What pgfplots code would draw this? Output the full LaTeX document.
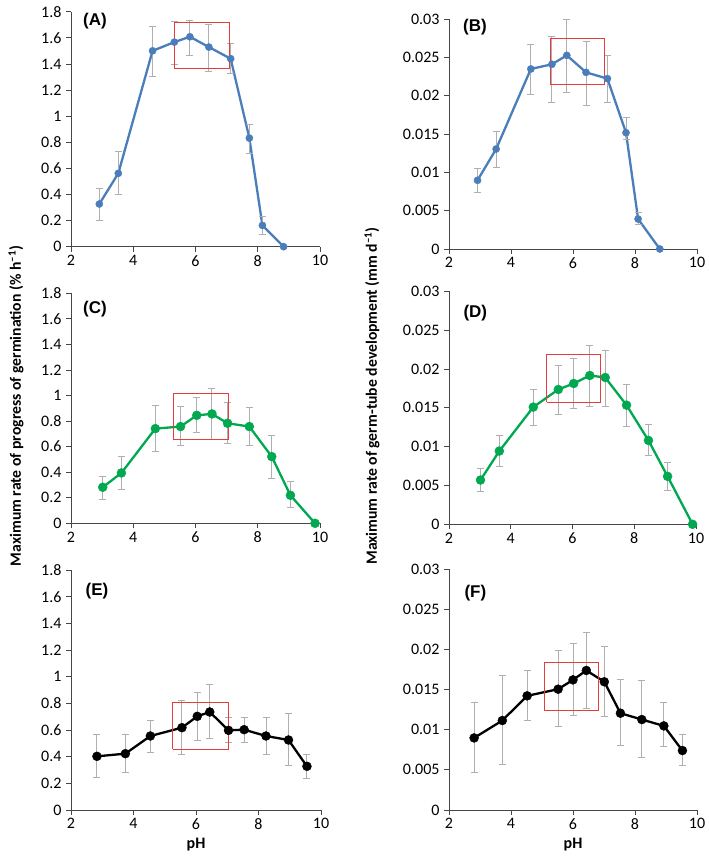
\documentclass[border=0pt]{standalone}
\usepackage{pgfplots}
\usepackage{pgfplotstable}
\pgfplotsset{compat=1.18}
\usepackage{fontspec}
\setmainfont{Carlito}
\newfontfamily\arialfont{Liberation Sans}
\definecolor{cblue}{RGB}{74,126,187}
\definecolor{cgreen}{RGB}{0,168,80}
\definecolor{cred}{RGB}{232,60,60}
\definecolor{cgray}{RGB}{175,175,175}
\definecolor{caxis}{RGB}{70,70,70}

\pgfplotstableread{
x y hi lo
2.91 0.327 0.442 0.204
3.52 0.562 0.728 0.396
4.62 1.50 1.69 1.30
5.32 1.567 1.728 1.394
5.82 1.608 1.736 1.465
6.43 1.529 1.703 1.343
7.13 1.44 1.555 1.325
7.73 0.832 0.934 0.717
8.15 0.163 0.23 0.097
8.83 0 0 0
}\tA
\pgfplotstableread{
x y hi lo
2.92 0.00896 0.01048 0.00735
3.52 0.01304 0.01539 0.01065
4.64 0.02348 0.0267 0.0201
5.32 0.02409 0.02774 0.01909
5.80 0.02526 0.02987 0.02039
6.42 0.02304 0.02704 0.01874
7.11 0.02222 0.02526 0.01909
7.71 0.01517 0.01713 0.0143
8.10 0.00391 0.00478 0.00313
8.80 0 0 0
}\tB
\pgfplotstableread{
x y hi lo
3.02 0.282 0.365 0.188
3.62 0.394 0.522 0.261
4.71 0.741 0.918 0.561
5.52 0.757 0.911 0.605
6.04 0.845 0.986 0.707
6.53 0.856 1.057 0.652
7.03 0.783 0.944 0.626
7.73 0.757 0.905 0.610
8.45 0.522 0.691 0.352
9.05 0.219 0.326 0.120
9.84 0 0 0
}\tC
\pgfplotstableread{
x y hi lo
3.02 0.0057 0.00724 0.00416
3.63 0.00943 0.0114 0.0075
4.73 0.01509 0.0174 0.01277
5.54 0.01736 0.02044 0.01414
6.04 0.01813 0.0213 0.01487
6.56 0.01916 0.0230 0.01521
7.06 0.0189 0.0224 0.01521
7.75 0.01534 0.0180 0.01256
8.46 0.0108 0.01286 0.00883
9.08 0.00617 0.00793 0.00441
9.89 0 0 0
}\tD
\pgfplotstableread{
x y hi lo
2.83 0.4025 0.5625 0.245
3.74 0.4225 0.5625 0.28
4.54 0.555 0.6725 0.4325
5.55 0.6175 0.8225 0.4175
6.04 0.7025 0.8825 0.5175
6.44 0.735 0.9375 0.5325
7.04 0.5975 0.695 0.5075
7.54 0.6025 0.695 0.5075
8.24 0.555 0.695 0.4175
8.96 0.525 0.725 0.3325
9.55 0.3275 0.4125 0.2375
}\tE
\pgfplotstableread{
x y hi lo
2.81 0.00897 0.01338 0.00465
3.72 0.01114 0.0167 0.00561
4.52 0.01421 0.01737 0.01118
5.52 0.01504 0.01986 0.01039
6.00 0.0162 0.02073 0.0118
6.43 0.01737 0.02215 0.01259
7.01 0.01596 0.0204 0.01168
7.53 0.01205 0.0162 0.00806
8.22 0.01126 0.01608 0.00652
8.93 0.01047 0.01342 0.00785
9.53 0.0074 0.00939 0.00553
}\tF

\pgfplotsset{
  panel/.style={
    scale only axis, anchor=south west, clip=false,
    axis lines=left, axis line style={-, caxis, line width=0.8pt},
    xmin=2, xmax=10, xtick={2,4,6,8,10}, ymin=0,
    tick align=outside, major tick length=5pt,
    tick style={caxis, line width=0.8pt},
    ticklabel style={font=\fontsize{16}{18}\selectfont},
    yticklabel style={xshift=-1pt},
    /pgf/number format/assume math mode=true,
    /pgf/number format/fixed,
    scaled y ticks=false,
    xlabel style={font=\fontsize{16}{18}\selectfont\bfseries, yshift=-2pt},
  },
  leftp/.style={panel, ymax=1.8, ytick={0,0.2,0.4,0.6,0.8,1,1.2,1.4,1.6,1.8},
    /pgf/number format/precision=1},
  rightp/.style={panel, ymax=0.03, ytick={0,0.005,0.01,0.015,0.02,0.025,0.03},
    /pgf/number format/precision=3},
  ser/.style 2 args={color=#1, line width=2.3pt, mark=*, mark size=#2,
    mark options={solid, fill=#1, draw=#1, line width=0.4pt},
    error bars/.cd, y dir=both, y explicit,
    error bar style={cgray, line width=1pt},
    error mark options={rotate=90, mark size=3.5pt, cgray, line width=1pt}},
  box/.style={cred, line width=1pt, no marks},
}
\newcommand{\plab}[2]{\node[anchor=north west, inner sep=0pt, font=\arialfont\fontsize{17}{19}\selectfont\bfseries] at (rel axis cs:#1) {#2};}
\newcommand{\ser}[3]{\addplot+[ser={#1}{#3}] table[x=x, y=y, y error plus expr=\thisrow{hi}-\thisrow{y}, y error minus expr=\thisrow{y}-\thisrow{lo}] {#2};}

\begin{document}
\begin{tikzpicture}
\useasboundingbox (0pt,0pt) rectangle (709pt,862pt);

% (A)
\begin{axis}[leftp, at={(71pt,615.3pt)}, width=249pt, height=235pt]
\ser{cblue}{\tA}{3.6pt}
\addplot[box] coordinates {(5.32,1.363)(7.09,1.363)(7.09,1.72)(5.32,1.72)(5.32,1.363)};
\plab{0.048,0.995}{(A)}
\end{axis}

% (B)
\begin{axis}[rightp, at={(449pt,613pt)}, width=248pt, height=230pt]
\ser{cblue}{\tB}{3.6pt}
\addplot[box] coordinates {(5.26,0.02143)(7.03,0.02143)(7.03,0.02752)(5.26,0.02752)(5.26,0.02143)};
\plab{0.056,1.0}{(B)}
\end{axis}

% (C)
\begin{axis}[leftp, at={(71pt,338.7pt)}, width=249pt, height=230pt]
\ser{cgreen}{\tC}{4.5pt}
\addplot[box] coordinates {(5.30,0.652)(7.06,0.652)(7.06,1.015)(5.30,1.015)(5.30,0.652)};
\plab{0.048,0.965}{(C)}
\end{axis}

% (D)
\begin{axis}[rightp, at={(449pt,337.7pt)}, width=247pt, height=233pt]
\ser{cgreen}{\tD}{4.5pt}
\addplot[box] coordinates {(5.16,0.01573)(6.92,0.01573)(6.92,0.0219)(5.16,0.0219)(5.16,0.01573)};
\plab{0.058,0.94}{(D)}
\end{axis}

% (E)
\begin{axis}[leftp, at={(71pt,52pt)}, width=250pt, height=240pt, xlabel={pH}]
\ser{black}{\tE}{4.5pt}
\addplot[box] coordinates {(5.25,0.455)(7.03,0.455)(7.03,0.8075)(5.25,0.8075)(5.25,0.455)};
\plab{0.058,0.945}{(E)}
\end{axis}

% (F)
\begin{axis}[rightp, at={(449pt,52pt)}, width=248pt, height=241pt, xlabel={pH}]
\ser{black}{\tF}{4.5pt}
\addplot[box] coordinates {(5.07,0.01234)(6.82,0.01234)(6.82,0.01832)(5.07,0.01832)(5.07,0.01234)};
\plab{0.062,0.935}{(F)}
\end{axis}

\node[rotate=90, font=\fontsize{15.7}{17}\selectfont\bfseries] at (16pt,456pt) {Maximum rate of progress of germination (\% h\textsuperscript{\textendash1})};
\node[rotate=90, font=\fontsize{15.7}{17}\selectfont\bfseries] at (372pt,466pt) {Maximum rate of germ-tube development (mm d\textsuperscript{\textendash1})};
\end{tikzpicture}
\end{document}
